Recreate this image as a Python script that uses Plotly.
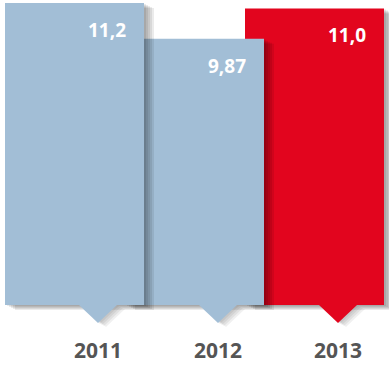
import plotly.graph_objects as go

# data
years = ["2011", "2012", "2013"]
values = [11.2, 9.87, 11.0]
value_labels = ["11,2", "9,87", "11,0"]
bar_colors = ["#a2bed6", "#a2bed6", "#e2051e"]

# pixel helpers (plot area = full 389x366 canvas)
W, H = 389, 366
PX_X = 120.0            # px per category step
PX_Y = 302 / 11.2       # px per value unit
x_range = [-98 / PX_X, (W - 98) / PX_X]
y_range = [-(H - 305) / PX_Y, 305 / PX_Y]
bar_off = -93 / PX_X
bar_w = 139 / PX_X

fig = go.Figure()

# draw back-to-front: 2013 first, 2011 last (on top)
for i in reversed(range(len(years))):
    for k in range(1, 6):
        fig.add_trace(go.Bar(
            x=[i], y=[values[i]], base=[-k / PX_Y],
            offset=bar_off + 2 * k / PX_X, width=bar_w,
            marker=dict(color="rgba(0,0,0,0.08)", line=dict(width=0)),
            hoverinfo="skip", showlegend=False))
    fig.add_trace(go.Bar(
        x=[i], y=[values[i]], offset=bar_off, width=bar_w,
        marker=dict(color=bar_colors[i], line=dict(width=0)),
        name=years[i], showlegend=False))

# pointers under each bar (with soft shadow)
hw, th = 19 / PX_X, 18 / PX_Y
for i in range(len(years)):
    for k in range(1, 5):
        dx, dy = 2 * k / PX_X, k / PX_Y
        fig.add_shape(type="path", xref="x", yref="y", layer="below",
                      path=f"M{i - hw + dx},{-dy} L{i + hw + dx},{-dy} L{i + dx},{-th - dy} Z",
                      fillcolor="rgba(0,0,0,0.06)", line=dict(width=0))
    fig.add_shape(type="path", xref="x", yref="y", layer="above",
                  path=f"M{i - hw},0 L{i + hw},0 L{i},{-th} Z",
                  fillcolor=bar_colors[i], line=dict(width=0))

# value labels and year labels
for i in range(len(years)):
    fig.add_annotation(x=i, y=values[i], text=value_labels[i], showarrow=False,
                       xanchor="right", yanchor="middle", xshift=30, yshift=-27,
                       font=dict(family="Open Sans", size=19, color="white", weight="bold"))
    fig.add_annotation(x=i, y=0, text=years[i], showarrow=False,
                       xanchor="center", yanchor="middle", yshift=-45,
                       font=dict(family="Open Sans", size=21, color="#555555", weight="bold"))

fig.update_layout(
    width=W, height=H, barmode="overlay",
    margin=dict(l=0, r=0, t=0, b=0),
    paper_bgcolor="white", plot_bgcolor="white",
    xaxis=dict(range=x_range, visible=False, fixedrange=True),
    yaxis=dict(range=y_range, visible=False, fixedrange=True),
)

fig.write_html("out.html", config={"displayModeBar": False},
               post_script="document.body.style.margin='0';")
